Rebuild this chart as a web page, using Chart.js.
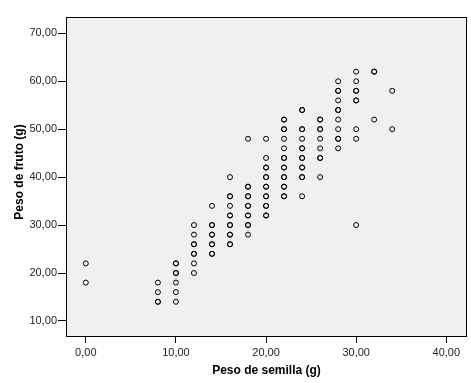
<!DOCTYPE html>
<html>
<head>
<meta charset="utf-8">
<script src="https://cdn.jsdelivr.net/npm/chart.js@4"></script>
<style>
  html, body { margin: 0; padding: 0; background: #fff; }
  #wrap { width: 471px; height: 383px; }
</style>
</head>
<body>
<div id="wrap"><canvas id="scatter" width="471" height="383"></canvas></div>
<script>
// seed weight (g) for each column of observations
const seedWeights = [0, 8, 10, 12, 14, 16, 18, 20, 22, 24, 26, 28, 30, 32, 34];
// fruit weights (g) observed at each seed weight (repeats = overlapping points)
const fruitWeights = [
  [18, 22],
  [14, 14, 16, 18],
  [14, 16, 18, 20, 20, 22, 22],
  [20, 22, 24, 24, 26, 26, 28, 30],
  [24, 24, 26, 26, 28, 28, 30, 30, 34],
  [26, 26, 28, 28, 30, 30, 32, 32, 34, 36, 36, 40],
  [28, 30, 30, 32, 32, 34, 34, 36, 36, 38, 38, 48],
  [32, 32, 34, 34, 36, 36, 38, 38, 40, 40, 42, 42, 44, 48],
  [36, 36, 38, 38, 40, 40, 42, 42, 44, 44, 46, 48, 50, 50, 52, 52],
  [36, 40, 40, 42, 42, 44, 44, 46, 46, 48, 50, 50, 54, 54],
  [40, 44, 44, 46, 48, 50, 50, 52, 52],
  [46, 48, 48, 50, 52, 54, 54, 56, 58, 58, 60],
  [30, 48, 50, 56, 56, 58, 58, 60, 62],
  [52, 62, 62],
  [50, 58]
];
const xTickValues = [0, 10, 20, 30, 40];
const yTickValues = [10, 20, 30, 40, 50, 60, 70];

const points = [];
seedWeights.forEach((s, i) => {
  fruitWeights[i].forEach(f => points.push({ x: s, y: f }));
});

const fmt = v => Number(v).toFixed(2).replace('.', ',');

// gray plot area with a black frame
const plotFrame = {
  id: 'plotFrame',
  beforeDatasetsDraw(chart) {
    const { ctx, chartArea: a } = chart;
    ctx.save();
    ctx.fillStyle = '#f0f0f0';
    ctx.fillRect(a.left, a.top, a.right - a.left, a.bottom - a.top);
    ctx.strokeStyle = '#000';
    ctx.lineWidth = 1;
    ctx.strokeRect(Math.round(a.left) + 0.5, Math.round(a.top) + 0.5,
      Math.round(a.right - a.left) - 1, Math.round(a.bottom - a.top) - 1);
    ctx.restore();
  }
};

new Chart(document.getElementById('scatter'), {
  type: 'scatter',
  data: {
    datasets: [{
      data: points,
      pointRadius: 2.5,
      pointHoverRadius: 2.5,
      borderWidth: 1,
      borderColor: '#000',
      backgroundColor: 'rgba(0,0,0,0)'
    }]
  },
  options: {
    responsive: false,
    animation: false,
    layout: { padding: { top: 17, right: 4, left: 12, bottom: 5 } },
    plugins: { legend: { display: false }, tooltip: { enabled: false } },
    scales: {
      x: {
        type: 'linear',
        min: -2.2,
        max: 42.3,
        afterBuildTicks: s => { s.ticks = xTickValues.map(v => ({ value: v })); },
        afterFit: s => { s.height = 41; },
        grid: { drawOnChartArea: false, drawTicks: true, tickLength: 6, color: '#000' },
        border: { display: false },
        ticks: {
          callback: fmt,
          maxRotation: 0,
          padding: 3,
          color: '#222',
          font: { family: 'Liberation Sans, Arial, sans-serif', size: 11 }
        },
        title: {
          display: true,
          text: 'Peso de semilla (g)',
          color: '#000',
          padding: { top: 2, bottom: 0 },
          font: { family: 'Liberation Sans, Arial, sans-serif', size: 12, weight: 'bold' }
        }
      },
      y: {
        type: 'linear',
        min: 6.65,
        max: 73.4,
        afterBuildTicks: s => { s.ticks = yTickValues.map(v => ({ value: v })); },
        afterFit: s => { s.width = 54; },
        grid: { drawOnChartArea: false, drawTicks: true, tickLength: 8, color: '#000' },
        border: { display: false },
        ticks: {
          callback: fmt,
          padding: 1,
          color: '#222',
          font: { family: 'Liberation Sans, Arial, sans-serif', size: 11 }
        },
        title: {
          display: true,
          text: '   Peso de fruto (g)',
          color: '#000',
          padding: { top: 0, bottom: 4 },
          font: { family: 'Liberation Sans, Arial, sans-serif', size: 12, weight: 'bold' }
        }
      }
    }
  },
  plugins: [plotFrame]
});
</script>
</body>
</html>
